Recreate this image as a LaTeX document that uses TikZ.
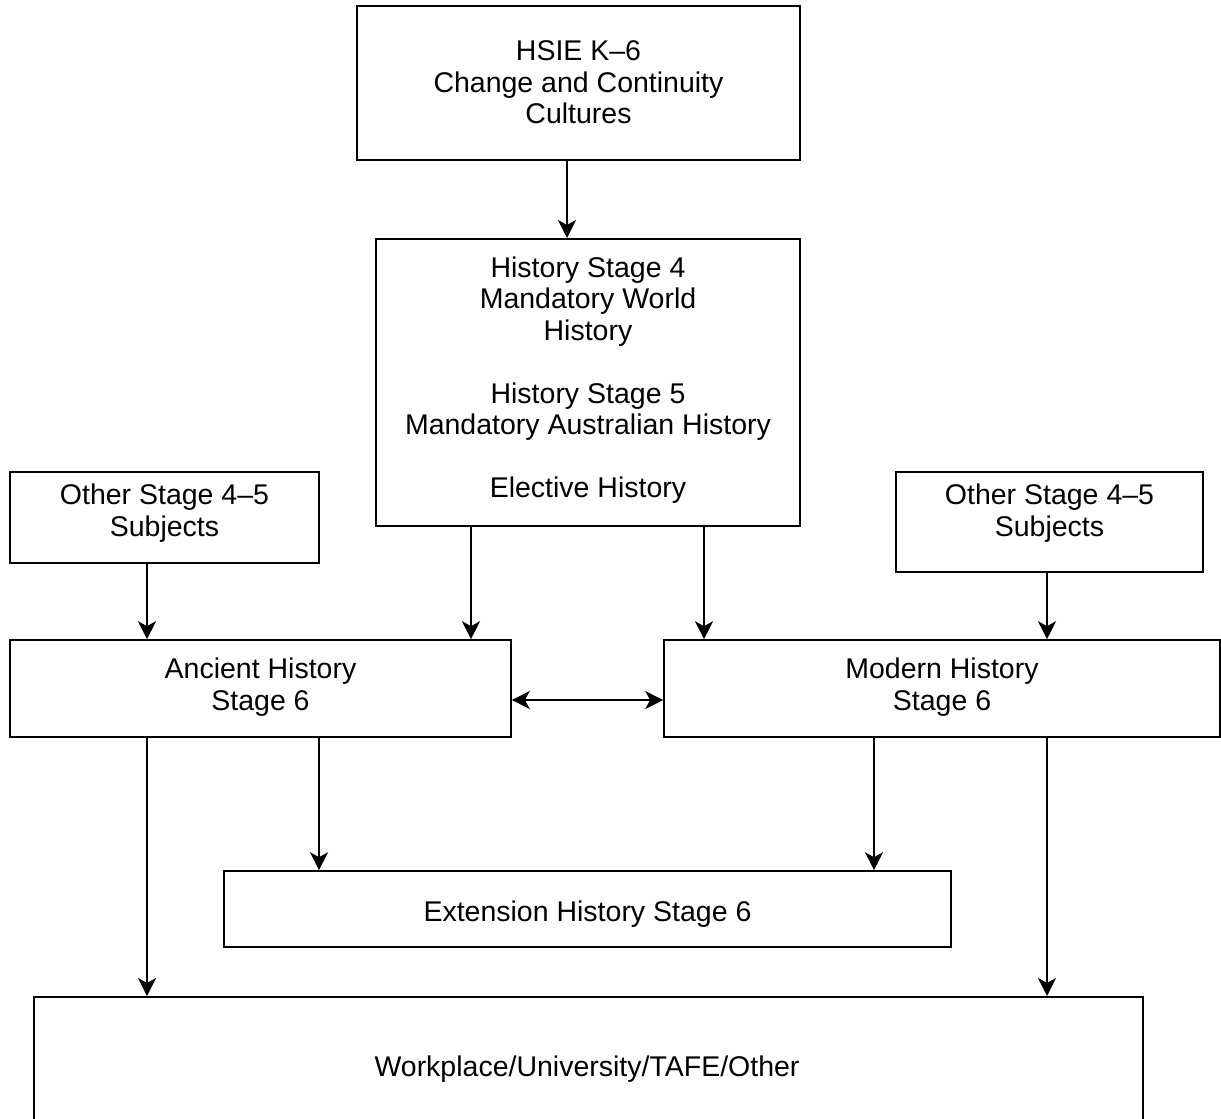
\documentclass[tikz,border=0pt]{standalone}
\usepackage{fontspec}
\setmainfont{Liberation Sans}
\usetikzlibrary{arrows.meta}
\begin{document}
\begin{tikzpicture}[x=1pt,y=-1pt,
  box/.style={draw,line width=1.6pt,inner sep=0pt},
  txt/.style={inner sep=0pt,align=center,font=\fontsize{28.5}{31.5}\selectfont},
  arr/.style={line width=1.6pt,-{Stealth[length=18pt,width=18pt,inset=5pt]}},
  darr/.style={line width=1.6pt,{Stealth[length=18pt,width=18pt,inset=5pt]}-{Stealth[length=18pt,width=18pt,inset=5pt]}}]
\useasboundingbox (0,0) rectangle (1221,1119);
\begin{scope}
\clip (0,0) rectangle (1221,1119);
\node[box,minimum width=443pt,minimum height=154pt] (hsie) at (578.5,83) {};
\node[txt] (hsietxt) at (578.5,82.5) {HSIE K–6\\Change and Continuity\\Cultures};
\node[box,minimum width=424pt,minimum height=287pt,anchor=north] (hist) at (588,238) {};
\node[txt] (histtxt) at (588,380) {History Stage 4\\Mandatory World\\History\\[31.5pt]History Stage 5\\Mandatory Australian History\\[31.5pt]Elective History};
\node[box,minimum width=309pt,minimum height=91pt] (otherl) at (164.5,517.5) {};
\node[txt] (otherltxt) at (164.5,513) {Other Stage 4–5\\Subjects};
\node[box,minimum width=307pt,minimum height=100pt] (otherr) at (1049.5,522) {};
\node[txt] (otherrtxt) at (1049.5,513) {Other Stage 4–5\\Subjects};
\node[box,minimum width=501pt,minimum height=97pt] (anc) at (260.5,688.5) {};
\node[txt] (anctxt) at (260.5,687) {Ancient History\\Stage 6};
\node[box,minimum width=556pt,minimum height=97pt] (mod) at (942,688.5) {};
\node[txt] (modtxt) at (942,687) {Modern History\\Stage 6};
\node[box,minimum width=727pt,minimum height=76pt] (ext) at (587.5,909) {};
\node[txt] (exttxt) at (587.5,914) {Extension History Stage 6};
\node[box,minimum width=1109pt,minimum height=140pt,anchor=north west] (work) at (33,996) {};
\node[txt] (worktxt) at (587,1069) {Workplace/University/TAFE/Other};
\end{scope}
\draw[arr] (hsie.south -| 567,0) -- (hist.north -| 567,0);
\draw[arr] (hist.south -| 471,0) -- (anc.north -| 471,0);
\draw[arr] (hist.south -| 704,0) -- (mod.north -| 704,0);
\draw[arr] (otherl.south -| 147,0) -- (anc.north -| 147,0);
\draw[arr] (otherr.south -| 1047,0) -- (mod.north -| 1047,0);
\draw[darr] (anc.east |- 0,700) -- (mod.west |- 0,700);
\draw[arr] (anc.south -| 147,0) -- (work.north -| 147,0);
\draw[arr] (anc.south -| 319,0) -- (ext.north -| 319,0);
\draw[arr] (mod.south -| 874,0) -- (ext.north -| 874,0);
\draw[arr] (mod.south -| 1047,0) -- (work.north -| 1047,0);
\end{tikzpicture}
\end{document}
